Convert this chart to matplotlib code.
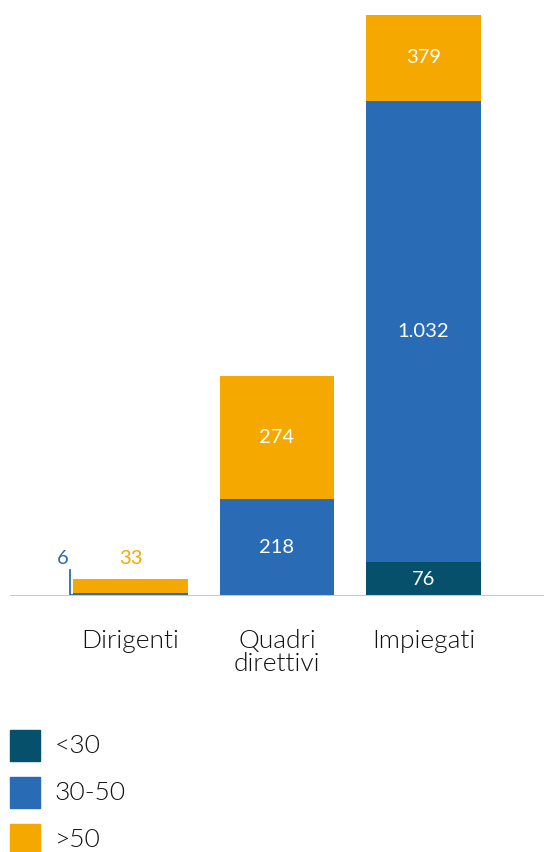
import matplotlib
matplotlib.use("Agg")
import matplotlib.pyplot as plt
import numpy as np
from matplotlib.patches import Rectangle

categories = ["Dirigenti", "Quadri\ndirettivi", "Impiegati"]
series_names = ["<30", "30-50", ">50"]
under_30 = [0, 0, 76]
from_30_to_50 = [6, 218, 1032]
over_50 = [33, 274, 379]
value_labels = [["", "", "76"], ["6", "218", "1.032"], ["33", "274", "379"]]

colors = ["#07506B", "#2A6BB5", "#F5A800"]
plt.rcParams["font.family"] = ["Lato", "DejaVu Sans"]

fig = plt.figure(figsize=(5.44, 8.52), dpi=100)
ax = fig.add_axes([10 / 544, 1 - 596 / 852, 534 / 544, 581 / 852])

x = np.arange(len(categories))
width = 0.785
ymax = 1300
bottom = np.zeros(len(categories))
for i, vals in enumerate([under_30, from_30_to_50, over_50]):
    vals = np.array(vals, dtype=float)
    ax.bar(x, vals, width, bottom=bottom, color=colors[i], linewidth=0, clip_on=True)
    for j, v in enumerate(vals):
        if v < 50 or not value_labels[i][j]:
            continue
        top = min(bottom[j] + v, ymax)
        ax.text(x[j], (bottom[j] + top) / 2, value_labels[i][j], ha="center",
                va="center", color="white", fontsize=14.5)
    bottom += vals

# small values of Dirigenti shown above the bar
ax.text(x[0], 83, value_labels[2][0], ha="center", va="center",
        color=colors[2], fontsize=14.5)
ax.text(x[0] - 0.46, 83, value_labels[1][0], ha="center", va="center",
        color=colors[1], fontsize=14.5)
ax.plot([-0.413, -0.413, -width / 2], [58, 3, 3], color=colors[1], lw=1.3,
        solid_joinstyle="miter")

ax.set_xlim(-0.823, 2.823)
ax.set_ylim(0, ymax)
ax.axhline(0, color="#C8C8C8", lw=2.2, zorder=5)
for s in ax.spines.values():
    s.set_visible(False)
ax.set_yticks([])
ax.set_xticks(x)
ax.set_xticklabels(categories, fontsize=19, linespacing=0.95, color="#111111",
                   fontweight=300)
ax.tick_params(axis="x", length=0, pad=24)

# legend
for k, name in enumerate(series_names):
    y0 = 730 + k * 47
    fig.add_artist(Rectangle((10 / 544, 1 - (y0 + 31) / 852), 30 / 544, 31 / 852,
                             color=colors[k], transform=fig.transFigure))
    fig.text(55 / 544, 1 - (y0 + 16) / 852, name, fontsize=19, va="center",
             ha="left", color="#111111", fontweight=300)

fig.savefig("out.png", dpi=100)
